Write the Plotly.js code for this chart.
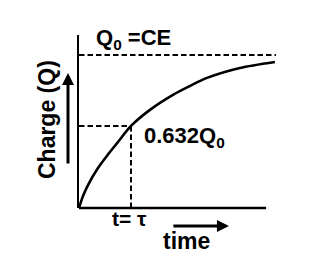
<!DOCTYPE html>
<html>
<head>
<meta charset="utf-8">
<script src="https://cdn.plot.ly/plotly-3.0.1.min.js"></script>
<style>html,body{margin:0;padding:0;background:#fff;}#chart{width:325px;height:264px;}</style>
</head>
<body>
<div id="chart"></div>
<script>
// Charging curve (time in units of tau, charge in units of Q0)
const timeVals   = [0, 0.077, 0.173, 0.365, 0.558, 0.75, 1.0, 1.365, 1.808, 2.135, 2.462, 3.096, 3.769];
const chargeVals = [0, 0.078, 0.150, 0.261, 0.350, 0.431, 0.536, 0.641, 0.739, 0.797, 0.850, 0.915, 0.954];
const tau = 1.0;           // t = tau marker
const chargeAtTau = 0.536; // where the 0.632Q0 guide sits in the drawing
const q0 = 1.0;            // final charge Q0 = CE
const tMax = 3.79;
const axisEnd = 3.6;

const labelQ0 = 'Q<sub>0</sub> =CE';
const labelTau = '0.632Q<sub>0</sub>';
const labelT = 't= τ';
const labelX = 'time';
const labelY = 'Charge (Q)';

const fontFam = '"Liberation Sans", Arial, sans-serif';
const dashStyle = {color: '#000', width: 2, dash: '5.5px,3px'};

const traces = [
  {x: timeVals, y: chargeVals, mode: 'lines', line: {color: '#000', width: 2.6, shape: 'spline', smoothing: 0.8}, hoverinfo: 'skip'},
  {x: [0, tMax], y: [q0, q0], mode: 'lines', line: dashStyle, hoverinfo: 'skip'},
  {x: [0, tau], y: [chargeAtTau, chargeAtTau], mode: 'lines', line: dashStyle, hoverinfo: 'skip'},
  {x: [tau, tau], y: [0, chargeAtTau], mode: 'lines', line: dashStyle, hoverinfo: 'skip'}
];

const layout = {
  width: 325, height: 264,
  margin: {l: 79, r: 49, t: 35, b: 56},
  paper_bgcolor: '#fff', plot_bgcolor: '#fff',
  showlegend: false,
  xaxis: {range: [0, tMax], showgrid: false, zeroline: false, showticklabels: false, ticks: '', showline: false, fixedrange: true},
  yaxis: {range: [0, 1.13], showgrid: false, zeroline: false, showticklabels: false, ticks: '', showline: true, linecolor: '#000', linewidth: 2.5, fixedrange: true},
  shapes: [
    {type: 'line', xref: 'x', yref: 'paper', x0: 0, x1: axisEnd, y0: 0, y1: 0, line: {color: '#000', width: 2.5}}
  ],
  annotations: [
    {text: '<b>' + labelQ0 + '</b>', xref: 'paper', yref: 'paper', x: 0.076, y: 0.975, xanchor: 'left', yanchor: 'middle', showarrow: false, font: {family: fontFam, size: 22, color: '#000'}},
    {text: '<b>' + labelTau + '</b>', xref: 'paper', yref: 'paper', x: 0.32, y: 0.41, xanchor: 'left', yanchor: 'middle', showarrow: false, font: {family: fontFam, size: 22, color: '#000'}},
    {text: '<b>' + labelT + '</b>', xref: 'paper', yref: 'paper', x: 0.158, y: -0.062, xanchor: 'left', yanchor: 'middle', showarrow: false, font: {family: fontFam, size: 21, color: '#000'}},
    {text: '<b>' + labelX + '</b>', xref: 'paper', yref: 'paper', x: 0.418, y: -0.19, xanchor: 'left', yanchor: 'middle', showarrow: false, font: {family: fontFam, size: 23, color: '#000'}},
    {text: '<b>' + labelY + '</b>', xref: 'paper', yref: 'paper', x: -0.162, y: 0.509, xanchor: 'center', yanchor: 'middle', textangle: -90, showarrow: false, font: {family: fontFam, size: 23, color: '#000'}},
    {text: '', xref: 'paper', yref: 'paper', x: -0.0558, y: 0.78, ax: 0, ay: 92, showarrow: true, arrowhead: 2, arrowsize: 0.8, arrowwidth: 3, arrowcolor: '#000'},
    {text: '', xref: 'paper', yref: 'paper', x: 0.761, y: -0.104, ax: -57, ay: 0, showarrow: true, arrowhead: 2, arrowsize: 0.8, arrowwidth: 3, arrowcolor: '#000'}
  ]
};

Plotly.newPlot('chart', traces, layout, {staticPlot: true, displayModeBar: false});
</script>
</body>
</html>
